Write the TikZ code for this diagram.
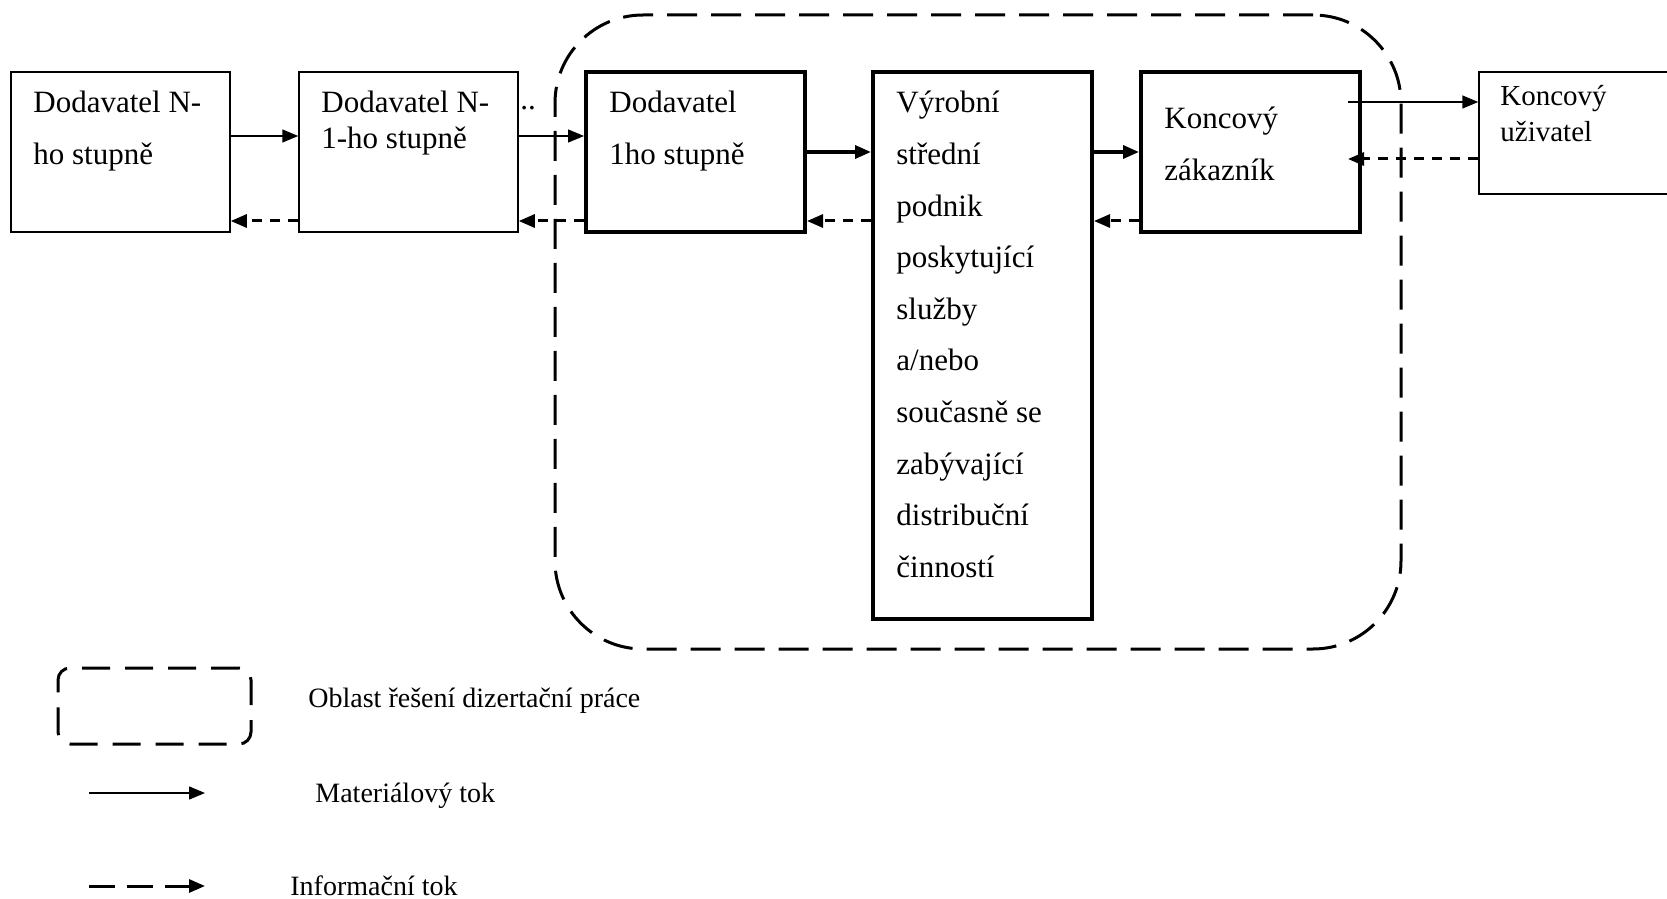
\documentclass[tikz,border=0pt]{standalone}
\usepackage{fontspec}
\setmainfont{Liberation Serif}
\usetikzlibrary{arrows.meta}
\newcommand{\boxfont}{\fontsize{15.5pt}{25.8pt}\selectfont}
\newcommand{\tightfont}{\fontsize{15.5pt}{17.5pt}\selectfont}
\newcommand{\legfont}{\fontsize{14pt}{17pt}\selectfont}
\tikzset{
    box/.style={draw, inner sep=0pt, minimum width=109.5pt, minimum height=80pt, line width=0.75pt},
    mainbox/.style={box, line width=2pt},
    txt/.style={anchor=base west, inner sep=0pt, text width=105pt, align=flush left},
    mat/.style={-{Triangle[length=8pt,width=6.5pt]}, line width=0.75pt},
    matthick/.style={mat, line width=1.75pt},
    info/.style={-{Triangle[length=8pt,width=6.5pt]}, line width=1.5pt, dash pattern=on 5pt off 4pt},
    region/.style={draw, inner sep=0pt, line width=1.5pt, dash pattern=on 15pt off 7pt},
}

\begin{document}
\begin{tikzpicture}[x=0.5pt,y=-0.5pt]
		\useasboundingbox (0,0) rectangle (1667,899);
		% area of the thesis
		\node[region, rounded corners=44pt, minimum width=423pt, minimum height=317pt] (scope) at (978,332) {};
		% supply chain
		\node[box] (a) at (120.5,152) {};
		\node[box] (b) at (408.5,152) {};
		\node[mainbox] (c) at (695.5,152) {};
		\node[mainbox, minimum height=273.5pt] (d) at (982.5,345.5) {};
		\node[mainbox] (e) at (1250.5,152) {};
		\node[box, minimum width=112pt, minimum height=61pt] (f) at (1591,133) {};
		\node[txt, font=\boxfont] (atxt) at (33,113) {Dodavatel N-\\ho stupně};
		\node[txt, font=\tightfont] (btxt) at (321,113) {Dodavatel N-\\1-ho stupně};
		\node[anchor=base, inner sep=0pt, font=\tightfont] (dots) at (528,110) {..};
		\node[txt, font=\boxfont] (ctxt) at (609,113) {Dodavatel\\1ho stupně};
		\node[txt, font=\boxfont] (dtxt) at (896,113) {Výrobní\\střední\\podnik\\poskytující\\služby\\a/nebo\\současně se\\zabývající\\distribuční\\činností};
		\node[txt, font=\boxfont] (etxt) at (1164,129) {Koncový\\zákazník};
		\node[txt, font=\fontsize{14.5pt}{18pt}\selectfont] (ftxt) at (1500,106) {Koncový\\uživatel};
		% material flow
		\draw[mat] (a.east |- 0,136) -- (b.west |- 0,136);
		\draw[mat] (b.east |- 0,136) -- (c.west |- 0,136);
		\draw[matthick] (c.east |- 0,152) -- (d.west |- 0,152);
		\draw[matthick] (d.east |- 0,152) -- (e.west |- 0,152);
		\coordinate (eout) at (1348,102);
		\draw[mat] (eout) -- (f.west |- eout);
		% information flow
		\coordinate (ein) at (1348,159);
		\draw[info] (f.west |- ein) -- (ein);
		\draw[info] (e.west |- 0,221) -- (d.east |- 0,221);
		\draw[info] (d.west |- 0,221) -- (c.east |- 0,221);
		\draw[info] (c.west |- 0,221) -- (b.east |- 0,221);
		\draw[info] (b.west |- 0,221) -- (a.east |- 0,221);
		% legend
		\node[region, rounded corners=6pt, dash pattern=on 14pt off 7.5pt, minimum width=96.5pt, minimum height=38pt] (legarea) at (154.5,706) {};
		\node[anchor=base west, inner sep=0pt, font=\legfont] (legareatxt) at (308,707) {Oblast řešení dizertační práce};
		\coordinate (m1) at (89,793);
		\coordinate (m2) at (205,793);
		\draw[mat] (m1) -- (m2);
		\node[anchor=base west, inner sep=0pt, font=\legfont] (legmat) at (315,802) {Materiálový tok};
		\coordinate (i1) at (89,886);
		\coordinate (i2) at (205,886);
		\draw[info, dash pattern=on 13pt off 6pt] (i1) -- (i2);
		\node[anchor=base west, inner sep=0pt, font=\legfont] (leginfo) at (290,895) {Informační tok};
\end{tikzpicture}
\end{document}
